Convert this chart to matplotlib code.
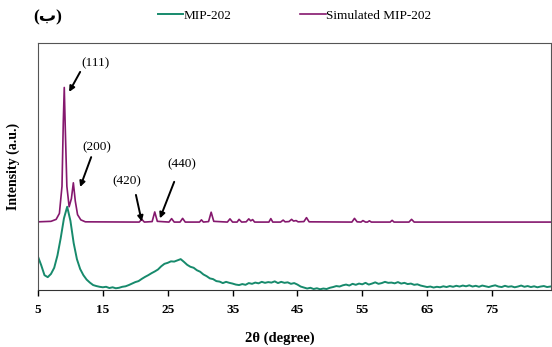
import numpy as np
import matplotlib.pyplot as plt

# MIP-202 measured pattern, read every 0.5 deg from 5 to 84
exp_deg = np.arange(5.0, 84.01, 0.5)
exp_int = [13.5, 10.0, 6.0, 5.2, 6.5, 9.0, 14.0, 21.0, 29.0, 33.7,
           28.0, 19.0, 12.5, 8.5, 6.0, 4.2, 3.0, 2.0, 1.6, 1.3,
           1.1, 1.3, 0.8, 1.1, 0.7, 0.9, 1.3, 1.5, 2.0, 2.6,
           3.2, 3.6, 4.5, 5.3, 6.0, 6.8, 7.5, 8.3, 9.6, 10.6,
           11.0, 11.6, 11.5, 12.0, 12.5, 11.4, 10.2, 9.4, 9.0, 8.0,
           7.4, 6.3, 5.6, 4.7, 4.4, 3.6, 3.4, 2.8, 3.3, 2.9,
           2.6, 2.2, 2.0, 2.4, 2.1, 2.8, 2.5, 3.0, 2.7, 3.3,
           2.9, 3.2, 3.0, 3.5, 2.8, 3.3, 2.9, 3.1, 2.5, 2.8,
           2.2, 1.4, 1.0, 0.6, 0.9, 0.4, 0.7, 0.3, 0.6, 0.4,
           0.9, 1.2, 1.6, 1.4, 1.9, 2.2, 1.8, 2.5, 2.1, 2.6,
           2.3, 2.9, 2.2, 2.6, 3.1, 2.5, 2.8, 3.3, 2.9, 3.0,
           2.7, 3.2, 2.6, 2.9, 2.4, 2.6, 2.1, 2.3, 1.8, 1.5,
           1.2, 1.4, 1.0, 1.3, 1.1, 1.5, 1.2, 1.6, 1.3, 1.7,
           1.4, 1.8, 1.5, 1.9, 1.4, 1.7, 1.3, 1.8, 1.5, 1.2,
           1.6, 1.9, 1.4, 1.2, 1.7, 1.3, 1.5, 1.1, 1.4, 1.8,
           1.3, 1.6, 1.2, 1.5, 1.1, 1.4, 1.6, 1.2, 1.4]

# simulated pattern (offset baseline)
sim_deg = [5.0, 7.0, 7.8, 8.3, 8.7, 8.9, 9.05, 9.2, 9.45, 9.8, 10.15, 10.45,
           10.75, 11.1, 11.6, 12.3, 20.6, 21.0, 21.4, 22.6, 23.0, 23.4, 25.2,
           25.6, 26.0, 26.9, 27.3, 27.7, 29.9, 30.2, 30.5, 31.3, 31.7, 32.1,
           34.2, 34.6, 35.0, 35.7, 36.0, 36.4, 37.1, 37.5, 37.8, 38.1, 38.4,
           40.6, 40.9, 41.2, 42.4, 42.8, 43.1, 43.7, 44.1, 44.4, 44.8, 45.1,
           46.0, 46.4, 46.8, 53.4, 53.8, 54.2, 54.8, 55.1, 55.5, 55.8, 56.1,
           56.4, 59.3, 59.6, 59.9, 62.2, 62.6, 63.0, 84.0]
sim_int = [27.6, 27.8, 28.6, 31.0, 42.0, 68.0, 82.0, 66.0, 42.0, 33.7, 37.0,
           43.4, 36.0, 30.5, 28.4, 27.6, 27.5, 28.6, 27.5, 27.7, 31.6, 27.8,
           27.5, 28.9, 27.5, 27.5, 29.0, 27.5, 27.5, 28.4, 27.5, 27.7, 31.5,
           27.8, 27.5, 28.8, 27.5, 27.5, 28.6, 27.5, 27.6, 28.8, 28.0, 28.5,
           27.5, 27.5, 28.9, 27.5, 27.5, 28.3, 27.6, 27.7, 28.6, 27.9, 28.1,
           27.6, 27.7, 29.3, 27.6, 27.5, 29.0, 27.6, 27.5, 28.1, 27.5, 27.5,
           28.0, 27.5, 27.5, 28.2, 27.5, 27.5, 28.6, 27.5, 27.5]

# (label, text pos, arrow tail, arrow tip)
peak_labels = ["(111)", "(200)", "(420)", "(440)"]
label_xy = [(13.9, 91.9), (14.1, 57.9), (18.7, 44.1), (27.2, 51.0)]
tail_xy = [(11.5, 88.3), (13.2, 53.8), (20.1, 38.5), (26.0, 43.8)]
tip_xy = [(9.8, 80.2), (11.5, 41.7), (21.0, 27.7), (23.8, 29.0)]

green = "#178a6c"
purple = "#85186e"
serif = ["Liberation Serif", "DejaVu Sans"]

fig = plt.figure(figsize=(5.52, 3.47), dpi=100)
ax = fig.add_axes([38/552, 57/347, 513/552, 247/347])

ax.plot(exp_deg, exp_int, color=green, lw=1.4, label="MIP-202")
ax.plot(sim_deg, sim_int, color=purple, lw=1.2, label="Simulated MIP-202")

for lab, t, s, p in zip(peak_labels, label_xy, tail_xy, tip_xy):
    ax.text(t[0], t[1], lab, ha="center", va="center", fontsize=9.5, family=serif)
    ax.annotate("", xy=p, xytext=s,
                arrowprops=dict(arrowstyle="-|>", color="black", lw=1.4,
                                mutation_scale=8, shrinkA=0, shrinkB=0))

ax.set_xlim(5, 84.1)
ax.set_ylim(0, 100)
ax.set_xticks([5, 15, 25, 35, 45, 55, 65, 75])
ax.set_yticks([])
ax.tick_params(axis="x", direction="out", length=4, width=1, pad=6)
for lbl in ax.get_xticklabels():
    lbl.set_fontfamily(serif)
    lbl.set_fontweight("bold")
    lbl.set_fontsize(9.5)

for side in ["top", "right", "left"]:
    ax.spines[side].set_color("#555555")
ax.spines["bottom"].set_color("#333333")

ax.set_xlabel("2θ (degree)", fontsize=10.5, fontweight="bold", family=serif)
ax.xaxis.set_label_coords((280 - 38) / 513, -0.17)
ax.set_ylabel("Intensity (a.u.)", fontsize=10, fontweight="bold", family=serif)
ax.yaxis.set_label_coords(-0.035, 0.5)

fig.legend(loc="center", bbox_to_anchor=(0.534, 0.954), ncol=2, frameon=False,
           handlelength=1.9, handletextpad=0.05, columnspacing=5.2,
           prop={"family": serif, "size": 9.5})

fig.text(48/552, 1 - 17/347, "(ب)", ha="center", va="center",
         fontsize=12.5, fontweight="bold", family=serif)

fig.savefig("out.png", dpi=100)
